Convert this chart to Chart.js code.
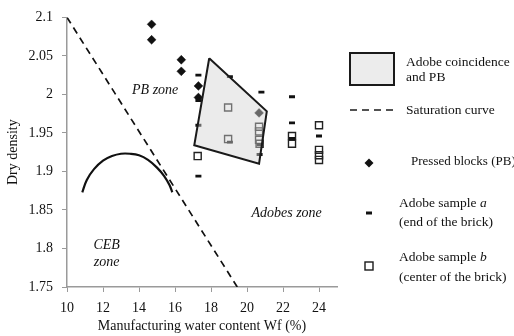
<!DOCTYPE html>
<html>
<head>
<meta charset="utf-8">
<script src="https://cdn.jsdelivr.net/npm/chart.js@4/dist/chart.umd.min.js"></script>
<style>
  body { margin: 0; background: #fff; }
  canvas { display: block; }
</style>
</head>
<body>
<canvas id="c" width="514" height="336"></canvas>
<script>
// data
const xTicks = [10, 12, 14, 16, 18, 20, 22, 24];
const yTicks = [1.75, 1.8, 1.85, 1.9, 1.95, 2, 2.05, 2.1];

const pbX = [14.7, 14.7, 16.35, 16.35, 17.3, 17.3, 20.67];
const pbY = [2.091, 2.071, 2.045, 2.03, 2.011, 1.996, 1.976];

const aX = [17.3, 17.3, 17.3, 17.3, 19.05, 19.05, 20.8, 20.7, 20.7, 22.5, 22.5, 22.5, 24.0];
const aY = [2.025, 1.992, 1.96, 1.894, 2.023, 1.938, 2.003, 1.935, 1.922, 1.997, 1.963, 1.943, 1.946];

const bX = [17.26, 18.95, 18.95, 20.67, 20.67, 20.67, 20.7, 22.5, 22.5, 24.0, 24.0, 24.0, 24.0];
const bY = [1.92, 1.983, 1.942, 1.958, 1.952, 1.941, 1.936, 1.946, 1.936, 1.96, 1.928, 1.921, 1.915];

const polyX = [17.9, 21.1, 20.67, 17.07, 17.9];
const polyY = [2.047, 1.978, 1.91, 1.934, 2.047];

const satX = [10, 19.46];
const satY = [2.1, 1.75];

const arcX = [10.85, 11.1, 11.5, 12.0, 12.5, 13.0, 13.5, 14.0, 14.5, 15.0, 15.4, 15.7, 15.85];
const arcY = [1.873, 1.889, 1.903, 1.914, 1.92, 1.923, 1.923, 1.921, 1.915, 1.905, 1.894, 1.882, 1.873];

const zoneLabels = [
  { text: 'PB zone', x: 14.9, y: 2.005 },
  { text: 'CEB', x: 12.2, y: 1.804 },
  { text: 'zone', x: 12.2, y: 1.782 },
  { text: 'Adobes zone', x: 22.2, y: 1.846 },
];

const pts = (xs, ys) => xs.map((x, i) => ({ x, y: ys[i] }));
const SERIF = '"Liberation Serif", "DejaVu Serif", serif';

// zone names inside the plot + the legend on the right
const extras = {
  id: 'extras',
  afterDraw(chart) {
    const { ctx, scales: { x, y } } = chart;
    ctx.save();
    ctx.fillStyle = '#111';
    ctx.textBaseline = 'middle';
    ctx.textAlign = 'center';
    ctx.font = 'italic 14px ' + SERIF;
    zoneLabels.forEach(l => ctx.fillText(l.text, x.getPixelForValue(l.x), y.getPixelForValue(l.y)));

    // legend
    ctx.textAlign = 'left';
    ctx.font = '13.5px ' + SERIF;
    ctx.fillStyle = '#ececec';
    ctx.fillRect(350, 53, 44, 32);
    ctx.strokeStyle = '#1a1a1a';
    ctx.lineWidth = 2;
    ctx.strokeRect(350, 53, 44, 32);
    ctx.fillStyle = '#111';
    ctx.fillText('Adobe coincidence', 406, 62);
    ctx.fillText('and PB', 406, 77);

    ctx.beginPath();
    ctx.setLineDash([7, 5]);
    ctx.lineWidth = 1.6;
    ctx.moveTo(350, 110); ctx.lineTo(394, 110);
    ctx.stroke();
    ctx.setLineDash([]);
    ctx.fillText('Saturation curve', 406, 110);

    ctx.beginPath();
    ctx.moveTo(369, 158.5); ctx.lineTo(373.5, 163); ctx.lineTo(369, 167.5); ctx.lineTo(364.5, 163);
    ctx.closePath(); ctx.fill();
    ctx.font = '13px ' + SERIF;
    ctx.fillText('Pressed blocks (PB)', 411, 162);
    ctx.font = '13.5px ' + SERIF;

    ctx.fillRect(366, 211.5, 6, 3);
    ctx.fillText('Adobe sample ', 399, 203);
    let w = ctx.measureText('Adobe sample ').width;
    ctx.font = 'italic 13.5px ' + SERIF;
    ctx.fillText('a', 399 + w, 203);
    ctx.font = '13.5px ' + SERIF;
    ctx.fillText('(end of the brick)', 399, 222);

    ctx.lineWidth = 1.4;
    ctx.strokeRect(365, 262, 8, 8);
    ctx.fillText('Adobe sample ', 399, 257);
    ctx.font = 'italic 13.5px ' + SERIF;
    ctx.fillText('b', 399 + w, 257);
    ctx.font = '13.5px ' + SERIF;
    ctx.fillText('(center of the brick)', 399, 277);
    ctx.restore();
  }
};

new Chart(document.getElementById('c'), {
  type: 'line',
  plugins: [extras],
  data: {
    datasets: [
      { label: 'Adobe coincidence and PB', data: pts(polyX, polyY), showLine: true, fill: 'shape',
        backgroundColor: 'rgba(210,210,210,0.45)', borderColor: '#1a1a1a', borderWidth: 2,
        pointRadius: 0, tension: 0 },
      { label: 'Saturation curve', data: pts(satX, satY), showLine: true, fill: false,
        borderColor: '#111', borderWidth: 1.7, borderDash: [7, 5], pointRadius: 0 },
      { label: 'arc', data: pts(arcX, arcY), showLine: true, fill: false,
        borderColor: '#111', borderWidth: 2.2, pointRadius: 0, tension: 0.4 },
      { label: 'Pressed blocks (PB)', data: pts(pbX, pbY), showLine: false,
        pointStyle: 'rectRot', pointRadius: 4.4, backgroundColor: '#111', borderColor: '#111', borderWidth: 0.5 },
      { label: 'Adobe sample a', data: pts(aX, aY), showLine: false,
        pointStyle: 'line', pointRadius: 3, borderColor: '#111', borderWidth: 2.8 },
      { label: 'Adobe sample b', data: pts(bX, bY), showLine: false,
        pointStyle: 'rect', pointRadius: 5, backgroundColor: 'rgba(255,255,255,0)', borderColor: '#222', borderWidth: 1.4 },
    ]
  },
  options: {
    responsive: false,
    animation: false,
    layout: { padding: { top: 14, right: 177, bottom: 0, left: 0 } },
    plugins: { legend: { display: false }, tooltip: { enabled: false } },
    scales: {
      x: {
        type: 'linear', min: 10, max: 25,
        afterBuildTicks: s => { s.ticks = xTicks.map(v => ({ value: v })); },
        afterFit: s => { s.height = 49; },
        grid: { drawOnChartArea: false, tickLength: 5, color: '#9a9a9a' },
        border: { color: '#9a9a9a', width: 1.5 },
        ticks: { color: '#111', padding: 8, font: { family: SERIF, size: 14 } },
        title: { display: true, text: 'Manufacturing water content Wf (%)', color: '#111',
          padding: { top: 1, bottom: 1 }, font: { family: SERIF, size: 14 } }
      },
      y: {
        type: 'linear', min: 1.75, max: 2.1,
        afterBuildTicks: s => { s.ticks = yTicks.map(v => ({ value: v })); },
        afterFit: s => { s.width = 67; },
        grid: { drawOnChartArea: false, tickLength: 5, color: '#9a9a9a' },
        border: { color: '#9a9a9a', width: 1.5 },
        ticks: { color: '#111', padding: 9, font: { family: SERIF, size: 14 },
          callback: v => String(+v.toFixed(2)) },
        title: { display: true, text: 'Dry density', color: '#111',
          padding: { top: 5, bottom: 4 }, font: { family: SERIF, size: 14 } }
      }
    }
  }
});
</script>
</body>
</html>
